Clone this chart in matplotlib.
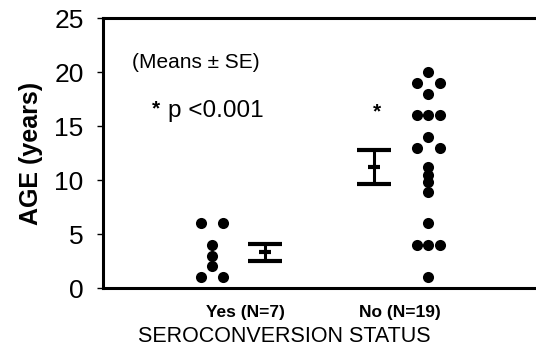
import numpy as np
import matplotlib
matplotlib.use("Agg")
import matplotlib.pyplot as plt

plt.rcParams['font.family'] = ['Liberation Sans', 'DejaVu Sans']

# data
groups = ["Yes (N=7)", "No (N=19)"]
ages_yes = [6, 6, 4, 3, 2, 1, 1]
ages_no = [20, 19, 19, 18, 16, 16, 16, 14, 13, 13, 11.2, 10.5, 9.8, 8.9,
           6, 4, 4, 4, 1]
means = [3.3, 11.2]
se = [0.8, 1.55]


def spread(vals):
    # put equal values side by side: 1 -> centre, 2 -> left/right, 3 -> row
    vals = np.asarray(vals, dtype=float)
    cols = np.zeros(len(vals))
    for v in np.unique(vals):
        idx = np.where(vals == v)[0]
        n = len(idx)
        if n == 2:
            cols[idx] = [-1, 1]
        elif n >= 3:
            cols[idx] = np.arange(n) - (n - 1) / 2
    return cols


fig = plt.figure(figsize=(5.36, 3.47), dpi=100, facecolor='white')
ax = fig.add_axes([103 / 536, 59 / 347, 433 / 536, 270 / 347])

dot_shift = [-0.213, 0.183]
bar_shift = [0.129, -0.168]
step = [0.068, 0.075]

for i, ages in enumerate([ages_yes, ages_no]):
    x = (i + 1) + dot_shift[i] + spread(ages) * step[i]
    ax.scatter(x, ages, s=64, color='black', zorder=3, linewidths=0)
    ax.errorbar((i + 1) + bar_shift[i], means[i], yerr=se[i], color='black',
                elinewidth=2.2, capsize=12, capthick=2.4, marker='_',
                markersize=8, markeredgewidth=3)

# significance mark above the "No" group
ax.text(1.85, 16.3, '*', fontsize=15, fontweight='bold', ha='center',
        va='center')
ax.text(0.27, 20.9, '(Means \u00b1 SE)', fontsize=15, ha='left', va='center')
ax.text(0.40, 16.6, '*', fontsize=15, fontweight='bold', ha='left',
        va='center')
ax.text(0.50, 16.4, 'p <0.001', fontsize=17.5, ha='left', va='center')

ax.set_xlim(1 - 142 / 155, 1 + 291 / 155)
ax.set_ylim(0, 25)
ax.set_yticks([0, 5, 10, 15, 20, 25])
ax.set_xticks([1, 2])
ax.set_xticklabels(groups, fontsize=12.5, fontweight='bold')
ax.tick_params(axis='x', length=0, pad=12)
ax.tick_params(axis='y', length=4, width=1, pad=10, labelsize=19)

ax.spines['right'].set_visible(False)
for s in ['left', 'top', 'bottom']:
    ax.spines[s].set_linewidth(2.2)

ax.set_ylabel('AGE (years)', fontsize=18, fontweight='bold', labelpad=8)
fig.text(284 / 536, 1 - 336 / 347, 'SEROCONVERSION STATUS', fontsize=15.5,
         ha='center', va='center')

fig.savefig('out.png', dpi=100)
